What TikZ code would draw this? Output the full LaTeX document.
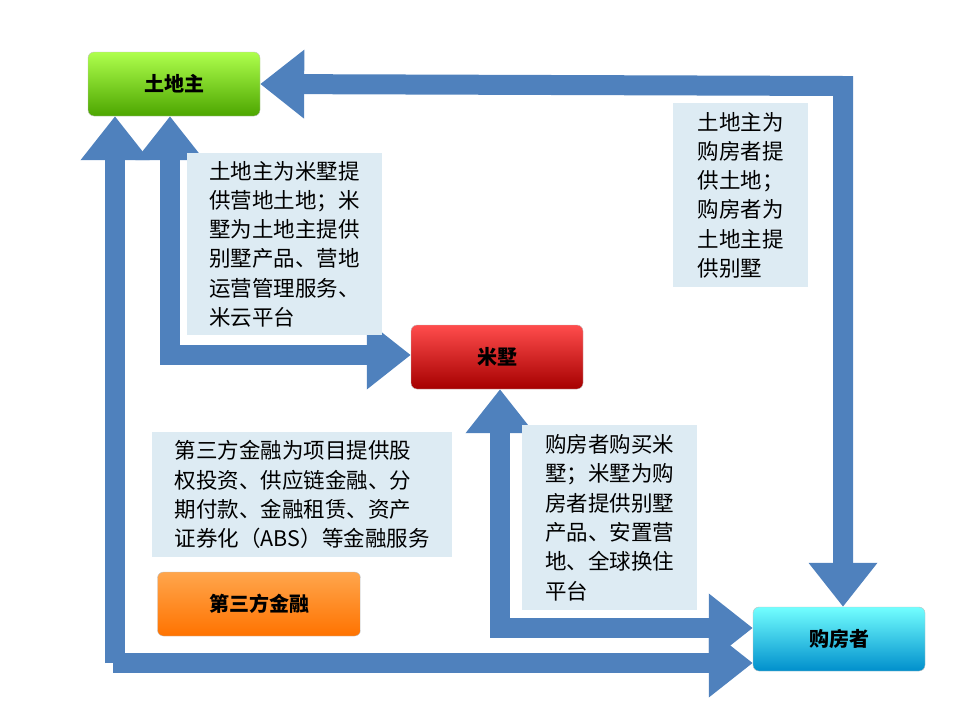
\documentclass[tikz,border=0pt]{standalone}
\usepackage{fontspec}
\newfontfamily\cjk{Noto Sans CJK SC}
\usetikzlibrary{arrows.meta}
\definecolor{flowblue}{HTML}{4F81BD}
\definecolor{notebg}{HTML}{DDEBF3}
\tikzset{
  party/.style={rounded corners=6pt, minimum width=172pt, minimum height=64pt,
    font=\cjk\bfseries\fontsize{20}{24}\selectfont, draw=black!25},
  note/.style={fill=notebg, anchor=north west, align=left, inner xsep=10pt, inner ysep=7pt,
    font=\cjk\fontsize{21.5}{29.3}\selectfont},
  flow/.style={line width=20pt, flowblue, -{Triangle[width=66pt,length=44pt]}},
  flows/.style={flow, {Triangle[width=66pt,length=44pt]}-{Triangle[width=66pt,length=44pt]}}
}
\begin{document}
\begin{tikzpicture}[x=1pt,y=-1pt]
  \useasboundingbox (0,0) rectangle (960,720);

  % parties
  \node[party, top color=green!45!yellow!70!white, bottom color=green!50!black!70!yellow] (owner) at (174,84) {土地主};
  \node[party, top color=red!70!white, bottom color=red!65!black] (misu) at (497,357) {米墅};
  \node[party, top color=cyan!55!white, bottom color=cyan!70!blue!80!black] (buyer) at (839,639) {购房者};
  \node[party, minimum width=203pt, top color=orange!70!white, bottom color=orange!90!red] (finance) at (259,604) {第三方金融};

  % flows
  \draw[flows] (owner.east) -- (843,86) -- (buyer.north -| 843,0);
  \draw[flows] (owner.south -| 170,0) -- (170,355) -- (misu.west |- 0,355);
  \draw[flow] (115,663) -- (owner.south -| 115,0);
  \draw[flow] (113,663) -- (buyer.west |- 0,663);
  \draw[flows] (misu.south -| 500,0) -- (500,628) -- (buyer.west |- 0,628);

  % notes
  \node[note, minimum width=195pt, minimum height=182pt] (n1) at (187,153)
    {土地主为米墅提\\供营地土地；米\\墅为土地主提供\\别墅产品、营地\\运营管理服务、\\米云平台};
  \node[note, minimum width=135pt, minimum height=184pt] (n2) at (673,103)
    {土地主为\\购房者提\\供土地；\\购房者为\\土地主提\\供别墅};
  \node[note, minimum width=300pt, minimum height=125pt] (n3) at (152,432)
    {第三方金融为项目提供股\\权投资、供应链金融、分\\期付款、金融租赁、资产\\证券化（ABS）等金融服务};
  \node[note, minimum width=175pt, minimum height=185pt] (n4) at (522,425)
    {购房者购买米\\墅；米墅为购\\房者提供别墅\\产品、安置营\\地、全球换住\\平台};
\end{tikzpicture}
\end{document}
